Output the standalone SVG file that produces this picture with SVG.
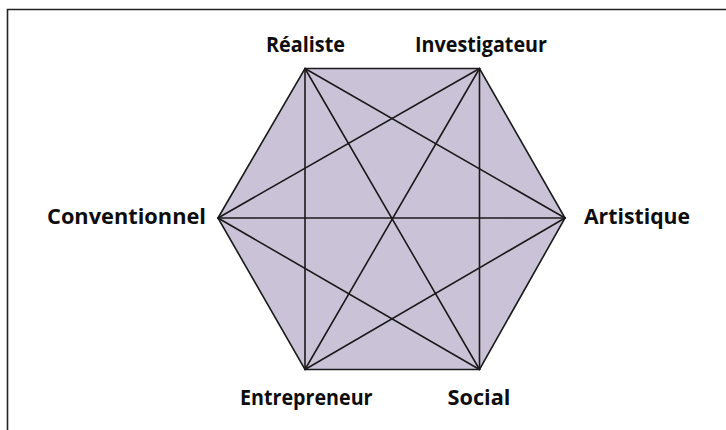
<svg xmlns="http://www.w3.org/2000/svg" width="726" height="430" viewBox="0 0 726 430">
<style>
.lbl{font-family:"Open Sans","Liberation Sans",Arial,sans-serif;font-weight:bold;font-size:21px;fill:#0d0d0d}
.edge{stroke:#1a1a1a;stroke-width:1.6;fill:none;stroke-linecap:round}
</style>
<rect x="0" y="0" width="726" height="430" fill="#fff"/>
<path d="M7.5 440 V9.5 H740" fill="none" stroke="#222" stroke-width="1.6"/>
<polygon points="218,218 305,68.5 479.5,68.5 565,218 479.5,369.5 305,369.5" fill="#cac3d7"/>
<g id="connectors">
<polygon class="edge" points="218,218 305,68.5 479.5,68.5 565,218 479.5,369.5 305,369.5" stroke-linejoin="miter"/>
<line class="edge" x1="305" y1="68.5" x2="565" y2="218"/>
<line class="edge" x1="305" y1="68.5" x2="479.5" y2="369.5"/>
<line class="edge" x1="305" y1="68.5" x2="305" y2="369.5"/>
<line class="edge" x1="479.5" y1="68.5" x2="218" y2="218"/>
<line class="edge" x1="479.5" y1="68.5" x2="305" y2="369.5"/>
<line class="edge" x1="479.5" y1="68.5" x2="479.5" y2="369.5"/>
<line class="edge" x1="218" y1="218" x2="565" y2="218"/>
<line class="edge" x1="218" y1="218" x2="479.5" y2="369.5"/>
<line class="edge" x1="565" y1="218" x2="305" y2="369.5"/>
</g>
<g id="realiste"><text class="lbl" x="266" y="51.5" textLength="79" lengthAdjust="spacingAndGlyphs">Réaliste</text></g>
<g id="investigateur"><text class="lbl" x="415" y="51.5" textLength="132" lengthAdjust="spacingAndGlyphs">Investigateur</text></g>
<g id="artistique"><text class="lbl" x="584" y="223.5" textLength="106" lengthAdjust="spacingAndGlyphs">Artistique</text></g>
<g id="social"><text class="lbl" x="447.5" y="405" textLength="63" lengthAdjust="spacingAndGlyphs">Social</text></g>
<g id="entrepreneur"><text class="lbl" x="240" y="405" textLength="132.5" lengthAdjust="spacingAndGlyphs">Entrepreneur</text></g>
<g id="conventionnel"><text class="lbl" x="47" y="223.5" textLength="159" lengthAdjust="spacingAndGlyphs">Conventionnel</text></g>
</svg>
